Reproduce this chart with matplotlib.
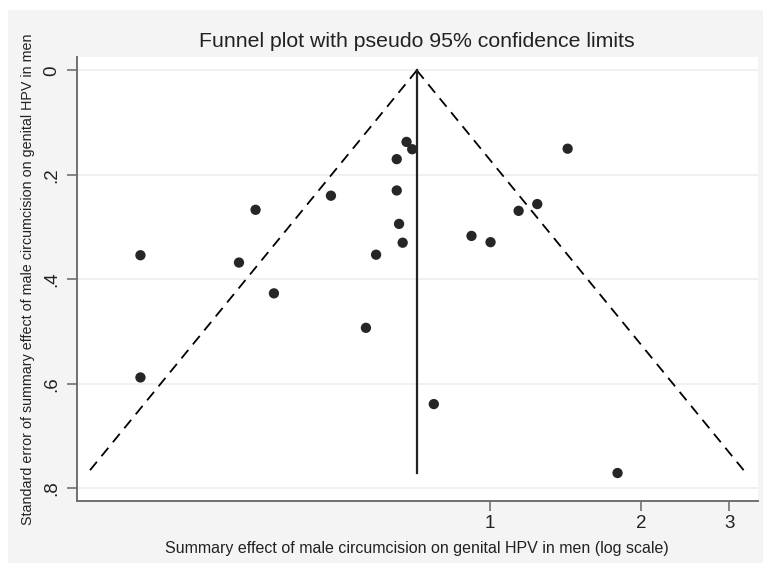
#!/usr/bin/env python3
import numpy as np
import matplotlib
matplotlib.use('Agg')
import matplotlib.pyplot as plt
from matplotlib.patches import Rectangle

plt.rcParams['font.family'] = ['Liberation Sans', 'DejaVu Sans']

# Study effects (ratio) and their standard errors
effect = [0.201, 0.201, 0.341, 0.316, 0.371, 0.482, 0.566, 0.593, 0.652, 0.652, 0.659,
          0.670, 0.682, 0.700, 0.773, 0.919, 1.003, 1.141, 1.243, 1.429, 1.797]
std_err = [0.354, 0.588, 0.267, 0.368, 0.427, 0.240, 0.493, 0.353, 0.170, 0.230, 0.294,
           0.330, 0.137, 0.151, 0.639, 0.317, 0.329, 0.269, 0.256, 0.150, 0.771]
pooled = 0.715
y_ticks = [0, 0.2, 0.4, 0.6, 0.8]
y_ticklabels = ['0', '.2', '.4', '.6', '.8']
x_ticks = [1, 2, 3]

fig = plt.figure(figsize=(7.63, 5.63), dpi=100)
fig.patch.set_facecolor('white')
# Stata-style grey graph region
fig.patches.append(Rectangle((8/763, 0), 1, 1 - 10/563, transform=fig.transFigure,
                             facecolor='#f4f4f4', edgecolor='none', zorder=-10))

ax = fig.add_axes([76.7/763, 1 - 500.7/563, 681/763, 443.4/563])
ax.set_facecolor('white')

# pseudo 95% confidence limits
se_line = np.array([0, max(std_err)])
ax.plot(pooled * np.exp(-1.96 * se_line), se_line, color='black', lw=1.3, dashes=(6, 4))
ax.plot(pooled * np.exp(1.96 * se_line), se_line, color='black', lw=1.3, dashes=(6, 4))
ax.plot([pooled, pooled], se_line, color='#222222', lw=1.6)

ax.scatter(effect, std_err, s=55, color='#262626', zorder=3, edgecolors='none')

ax.set_xscale('log')
ax.set_xlim(0.150, 3.42)
ax.set_ylim(0.824, -0.025)
ax.set_xticks(x_ticks)
ax.set_xticklabels([str(t) for t in x_ticks])
ax.xaxis.set_minor_locator(matplotlib.ticker.NullLocator())
ax.set_yticks(y_ticks)
ax.set_yticklabels(y_ticklabels, rotation=90, va='center')

ax.grid(True, axis='y', color='#eeeeee', lw=1.2)
ax.set_axisbelow(True)
for s in ['top', 'right']:
    ax.spines[s].set_visible(False)
for s in ['left', 'bottom']:
    ax.spines[s].set_color('#707070')
    ax.spines[s].set_linewidth(1.4)
ax.tick_params(axis='both', colors='#707070', length=7, width=1.2, labelcolor='#222222', labelsize=13.5)
ax.tick_params(axis='y', pad=4.5)
ax.tick_params(axis='x', pad=3)

ax.set_title('Funnel plot with pseudo 95% confidence limits', fontsize=15.3, color='#222222', pad=7.5)
ax.set_xlabel('Summary effect of male circumcision on genital HPV in men (log scale)', fontsize=11.5,
              color='#222222', labelpad=7)
ax.set_ylabel('Standard error of summary effect of male circumcision on genital HPV in men', fontsize=10.3,
              color='#222222', labelpad=6)

plt.savefig('out.png', dpi=100)
